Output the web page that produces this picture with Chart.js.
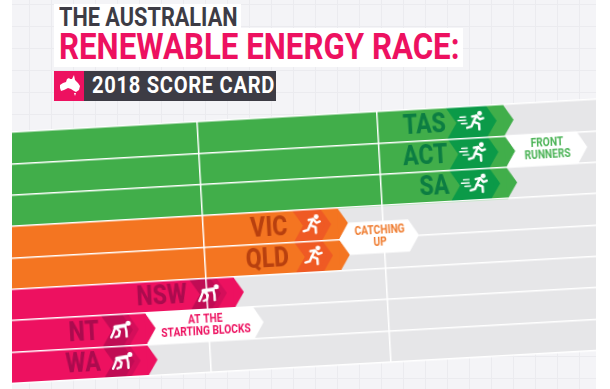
<!DOCTYPE html>
<html lang="en">
    <head>
        <meta charset="UTF-8">
        <title>The Australian Renewable Energy Race</title>
        <script src="https://cdn.jsdelivr.net/npm/chart.js@4.4.1/dist/chart.umd.min.js"></script>
        <style>
            html, body { margin: 0; padding: 0; background: #fff; overflow: hidden; }
            body { width: 610px; height: 389px; position: relative; font-family: Roboto, sans-serif; font-weight: 700; }
            .paper {
                position: absolute; left: 12px; top: 0; width: 584px; height: 389px; overflow: hidden;
                background-color: #f4f4f7;
                background-image: linear-gradient(#ebebef 1px, transparent 1px), linear-gradient(90deg, #ebebef 1px, transparent 1px);
                background-size: 22px 22px;
                background-position: 17px 4px;
            }
            .chart-wrap {
                position: absolute; left: -31.2px; top: 123.75px; width: 639px; height: 280px;
                transform-origin: 0 0; transform: rotate(-3.23deg);
            }
            .box { position: absolute; background: #fff; }
            .line { position: absolute; white-space: nowrap; transform-origin: 0 0; }
            #l1 { left: 59px; top: 3px; font-size: 25px; line-height: 30px; color: #3d3c45; }
            #l2 { left: 59px; top: 25px; font-size: 37px; line-height: 44px; color: #ed1160; }
            #l3 { left: 92px; top: 71px; font-size: 23px; line-height: 30px; color: #fff; letter-spacing: .8px; }
        </style>
    </head>
    <body>
        <div class="paper">
            <div class="chart-wrap"><canvas id="chart" width="639" height="280"></canvas></div>
        </div>

        <div class="box" style="left:54px;top:4px;width:187px;height:25px"></div>
        <div class="box" style="left:54px;top:28px;width:409px;height:39px"></div>
        <div class="line" id="l1" style="transform:scaleX(.868)">THE AUSTRALIAN</div>
        <div class="line" id="l2" style="transform:scaleX(.845)">RENEWABLE ENERGY RACE:</div>

        <div class="box" style="left:54px;top:71px;width:30px;height:30px;background:#ed1160"></div>
        <div class="box" style="left:84px;top:71px;width:192px;height:30px;background:#3d3c45"></div>
        <svg style="position:absolute;left:59px;top:75px" width="22" height="22" viewBox="0 0 22 22">
            <path fill="#fff" d="M1 10 L4 8 L7 7 L8 4 L10 3 L11 4 L13 4 L15 0 L16 5 L19 8 L21 11 L20 15 L17 17 L15 16 L12 14 L9 13 L5 15 L2 16 L1 13 Z M15 18 L17 18 L16 21 Z"/>
        </svg>
        <div class="line" id="l3" style="transform:scaleX(.875)">2018 SCORE CARD</div>

        <script>
            const states = ['TAS', 'ACT', 'SA', 'VIC', 'QLD', 'NSW', 'NT', 'WA'];
            const scores = [54, 54, 54, 35, 35, 23, 13, 13];
            const stages = ['front', 'front', 'front', 'catching', 'catching', 'start', 'start', 'start'];
            const gridValues = [20, 40];

            const bannerTexts = [['FRONT', 'RUNNERS'], ['CATCHING', 'UP'], ['AT THE', 'STARTING BLOCKS']];
            const bannerRows = [1, 3.5, 6];
            const bannerStages = ['front', 'catching', 'start'];

            // colours and arrow sizes per stage, in canvas px
            const looks = {
                front: { bar: '#41ae4a', mid: '#0b9a48', dark: '#0b9a48', text: '#0c7d42', note: '#4bb356', back: 57, textAt: 58, iconAt: 28, reach: 82 },
                catching: { bar: '#f47521', mid: '#ef5a24', dark: '#ef5a24', text: '#b8400f', note: '#ef7a2c', back: 45, textAt: 51, iconAt: 26, reach: 80 },
                start: { bar: '#ed1160', mid: '#d40e5a', dark: '#c00c54', text: '#ab0b4e', note: '#ed1160', back: 44, textAt: 47, iconAt: 25, reach: 118 }
            };
            const TIP = 10;

            function chevron(ctx, left, right, top, bottom, color) {
                const mid = (top + bottom) / 2;
                ctx.fillStyle = color;
                ctx.beginPath();
                ctx.moveTo(left, top);
                ctx.lineTo(right - TIP, top);
                ctx.lineTo(right, mid);
                ctx.lineTo(right - TIP, bottom);
                ctx.lineTo(left, bottom);
                ctx.lineTo(left + TIP, mid);
                ctx.closePath();
                ctx.fill();
            }

            function limbs(ctx, lines) {
                lines.forEach((pts) => {
                    ctx.beginPath();
                    pts.forEach((p, i) => i ? ctx.lineTo(p[0], p[1]) : ctx.moveTo(p[0], p[1]));
                    ctx.stroke();
                });
            }

            function runner(ctx, x, y, speedLines) {
                ctx.save();
                ctx.translate(x, y);
                ctx.scale(1.1, 1.1);
                ctx.strokeStyle = '#fff';
                ctx.fillStyle = '#fff';
                ctx.lineCap = 'round';
                ctx.lineJoin = 'round';
                ctx.beginPath();
                ctx.arc(4, -7.5, 2.2, 0, Math.PI * 2);
                ctx.fill();
                ctx.lineWidth = 2.2;
                limbs(ctx, [
                    [[-3, -5], [1, -5.5], [4, -2], [7, -3]],
                    [[1, -5.5], [-2, 0], [3, 2], [3, 7]],
                    [[-2, 0], [-4, 4], [-8, 5]]
                ]);
                if (speedLines) {
                    ctx.lineWidth = 1.3;
                    limbs(ctx, [
                        [[-14, -5], [-9, -5]],
                        [[-16, -2], [-9, -2]],
                        [[-13, 1], [-8, 1]]
                    ]);
                }
                ctx.restore();
            }

            function crawler(ctx, x, y) {
                ctx.save();
                ctx.translate(x, y);
                ctx.scale(1.1, 1.1);
                ctx.strokeStyle = '#fff';
                ctx.fillStyle = '#fff';
                ctx.lineCap = 'round';
                ctx.lineJoin = 'round';
                ctx.beginPath();
                ctx.arc(7, -6, 2.3, 0, Math.PI * 2);
                ctx.fill();
                ctx.lineWidth = 3.4;
                limbs(ctx, [[[4, -4], [-5, -3]]]);
                ctx.lineWidth = 2.2;
                limbs(ctx, [
                    [[4, -4], [5, 1], [5, 6]],
                    [[-5, -3], [-1, 1], [-2, 5], [-5, 6]],
                    [[-5, -3], [-7, 2], [-9, 6]]
                ]);
                ctx.restore();
            }

            function squeezed(ctx, text, x, y, squeeze) {
                ctx.save();
                ctx.translate(x, y);
                ctx.scale(squeeze, 1);
                ctx.fillText(text, 0, 0);
                ctx.restore();
            }

            const arrowPlugin = {
                id: 'arrows',
                beforeDraw(chart) {
                    const a = chart.chartArea;
                    chart.ctx.fillStyle = '#e6e6e8';
                    chart.ctx.fillRect(a.left, a.top, a.right - a.left, a.bottom - a.top);
                },
                afterDatasetsDraw(chart) {
                    const ctx = chart.ctx;
                    chart.getDatasetMeta(0).data.forEach((bar, i) => {
                        const look = looks[stages[i]];
                        const end = bar.x;
                        const top = bar.y - bar.height / 2;
                        const bottom = bar.y + bar.height / 2;
                        // arrow point past the end of the bar
                        ctx.fillStyle = look.bar;
                        ctx.beginPath();
                        ctx.moveTo(end - 0.5, top);
                        ctx.lineTo(end, top);
                        ctx.lineTo(end + TIP, bar.y);
                        ctx.lineTo(end, bottom);
                        ctx.lineTo(end - 0.5, bottom);
                        ctx.closePath();
                        ctx.fill();
                        chevron(ctx, end - look.back, end - 7, top, bottom, look.mid);
                        chevron(ctx, end - look.back, end - 13, top, bottom, look.dark);
                    });
                },
                afterDraw(chart) {
                    const ctx = chart.ctx;
                    const meta = chart.getDatasetMeta(0).data;
                    const y = chart.scales.y;
                    const rowH = meta[0].height;

                    ctx.textAlign = 'center';
                    ctx.textBaseline = 'middle';
                    bannerTexts.forEach((lines, b) => {
                        const look = looks[bannerStages[b]];
                        const row = bannerRows[b];
                        const end = meta[Math.floor(row)].x;
                        const mid = y.getPixelForValue(row);
                        const top = mid - rowH / 2 - 0.5;
                        const bottom = mid + rowH / 2 + 0.5;
                        const onRow = Number.isInteger(row);
                        const right = end + look.reach;
                        ctx.fillStyle = '#fff';
                        ctx.beginPath();
                        ctx.moveTo(onRow ? end : end + TIP, top);
                        ctx.lineTo(right - TIP, top);
                        ctx.lineTo(right, mid);
                        ctx.lineTo(right - TIP, bottom);
                        ctx.lineTo(onRow ? end : end + TIP, bottom);
                        ctx.lineTo(onRow ? end + TIP : end, mid);
                        ctx.closePath();
                        ctx.fill();

                        ctx.fillStyle = look.note;
                        ctx.font = '700 12px Roboto';
                        const centre = end + look.reach / 2 + 1;
                        squeezed(ctx, lines[0], centre, mid - 6, 0.85);
                        squeezed(ctx, lines[1], centre, mid + 6, 0.85);
                    });

                    ctx.textAlign = 'right';
                    ctx.font = '800 28px Roboto';
                    meta.forEach((bar, i) => {
                        const look = looks[stages[i]];
                        ctx.fillStyle = look.text;
                        squeezed(ctx, states[i], bar.x - look.textAt, bar.y + 1, 0.82);
                        if (stages[i] === 'start') {
                            crawler(ctx, bar.x - look.iconAt, bar.y);
                        } else {
                            runner(ctx, bar.x - look.iconAt, bar.y, stages[i] === 'front');
                        }
                    });
                }
            };

            new Chart(document.getElementById('chart'), {
                type: 'bar',
                data: {
                    labels: states,
                    datasets: [{
                        label: 'Score',
                        data: scores,
                        base: -4,
                        backgroundColor: stages.map((s) => looks[s].bar),
                        borderWidth: 0,
                        barPercentage: 1,
                        categoryPercentage: 1
                    }]
                },
                options: {
                    indexAxis: 'y',
                    responsive: false,
                    animation: false,
                    layout: { padding: { top: 10, bottom: 19.2 } },
                    plugins: { legend: { display: false }, tooltip: { enabled: false } },
                    scales: {
                        x: {
                            min: -4,
                            max: 67,
                            afterBuildTicks: (scale) => { scale.ticks = gridValues.map((v) => ({ value: v })); },
                            ticks: { display: false },
                            border: { display: false },
                            grid: { color: '#fff', lineWidth: 1.5, drawTicks: false, z: 1 }
                        },
                        y: {
                            ticks: { display: false },
                            border: { display: false },
                            grid: { color: '#fff', lineWidth: 1.5, drawTicks: false, z: 1 }
                        }
                    }
                },
                plugins: [arrowPlugin]
            });
        </script>
    </body>
</html>
